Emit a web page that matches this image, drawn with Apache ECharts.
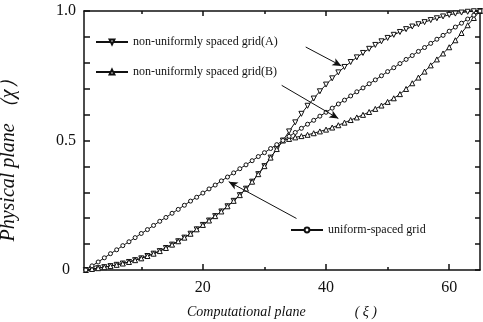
<!DOCTYPE html>
<html>
<head>
<meta charset="utf-8">
<script src="https://cdn.jsdelivr.net/npm/echarts@6/dist/echarts.min.js"></script>
<style>
  html, body { margin: 0; padding: 0; background: #fff; }
  #chart { width: 483px; height: 322px; }
</style>
</head>
<body>
<div id="chart"></div>
<script>
// grid index along the computational plane
const xi = [1,2,3,4,5,6,7,8,9,10,11,12,13,14,15,16,17,18,19,20,21,22,23,24,25,26,27,28,29,30,31,32,33,
  34,35,36,37,38,39,40,41,42,43,44,45,46,47,48,49,50,51,52,53,54,55,56,57,58,59,60,61,62,63,64,65]

// non-uniformly spaced grid (A)
const gridA = [0.000,0.004,0.007,0.011,0.015,0.020,0.025,0.031,0.038,0.045,0.054,0.063,0.073,0.085,0.098,0.111,
  0.125,0.140,0.157,0.174,0.191,0.208,0.226,0.246,0.267,0.289,0.314,0.341,0.370,0.401,0.434,0.467,0.500,
  0.535,0.570,0.603,0.634,0.662,0.690,0.716,0.740,0.763,0.784,0.803,0.821,0.838,0.854,0.869,0.883,0.896,
  0.908,0.919,0.930,0.940,0.949,0.957,0.965,0.972,0.979,0.985,0.990,0.994,0.997,0.999,1.000]

// non-uniformly spaced grid (B)
const gridB = [0.000,0.004,0.007,0.011,0.015,0.020,0.025,0.031,0.038,0.045,0.054,0.063,0.073,0.085,0.098,0.111,
  0.125,0.140,0.157,0.174,0.191,0.208,0.226,0.246,0.267,0.289,0.314,0.341,0.370,0.401,0.434,0.467,0.500,
  0.506,0.512,0.517,0.522,0.528,0.535,0.542,0.550,0.559,0.569,0.579,0.589,0.599,0.610,0.622,0.635,0.649,
  0.663,0.679,0.699,0.721,0.743,0.766,0.790,0.813,0.836,0.860,0.887,0.915,0.945,0.973,1.000]

// uniform-spaced grid
const gridU = [0.000,0.016,0.031,0.047,0.063,0.078,0.094,0.109,0.125,0.141,0.156,0.172,0.188,0.203,0.219,0.234,
  0.250,0.266,0.281,0.297,0.313,0.328,0.344,0.359,0.375,0.391,0.406,0.422,0.438,0.453,0.469,0.484,0.500,
  0.516,0.531,0.547,0.563,0.578,0.594,0.609,0.625,0.641,0.656,0.672,0.688,0.703,0.719,0.734,0.750,0.766,
  0.781,0.797,0.813,0.828,0.844,0.859,0.875,0.891,0.906,0.922,0.938,0.953,0.969,0.984,1.000]

const names = ['non-uniformly spaced grid(A)', 'non-uniformly spaced grid(B)', 'uniform-spaced grid']

const xMajorTicks = [20, 40, 60]
const xMinorTicks = [10, 30, 50]
const yLabels = [0, 0.5, 1]

// pointer arrows [from, to] in data units
const arrows = [
  [[36.7, 0.861], [42.5, 0.788]],
  [[32.8, 0.713], [42.0, 0.585]],
  [[35.2, 0.199], [24.2, 0.341]]
]

const ink = '#111'
const serif = '"Liberation Serif", "DejaVu Serif", serif'

const chart = echarts.init(document.getElementById('chart'), null, { renderer: 'canvas' })

const pairs = arr => arr.map((v, i) => [xi[i], v])

const lineSeries = (name, data, symbol, size) => ({
  name,
  type: 'line',
  data: pairs(data),
  symbol,
  symbolSize: size,
  showSymbol: true,
  lineStyle: { color: ink, width: 1 },
  itemStyle: { color: '#fff', borderColor: ink, borderWidth: 1 },
  emphasis: { disabled: true },
  animation: false
})

const xBase = {
  type: 'value', min: 0.7, max: 65,
  splitLine: { show: false }
}

const yBase = {
  type: 'value', min: 0, max: 1, interval: 0.1,
  splitLine: { show: false }
}

const legendBase = {
  orient: 'vertical',
  padding: 0,
  itemWidth: 32,
  itemHeight: 6,
  itemGap: 0,
  selectedMode: false,
  textStyle: { color: ink, fontFamily: serif, fontSize: 12 }
}

const option = {
  backgroundColor: '#fff',
  animation: false,
  grid: { left: 84, right: 3, top: 11, bottom: 52, outerBoundsMode: 'none', containLabel: false },
  legend: [
    { ...legendBase, data: [names[0]], left: 95, top: 36 },
    { ...legendBase, data: [names[1]], left: 95, top: 66 },
    { ...legendBase, data: [names[2]], left: 290, top: 224 }
  ],
  xAxis: [
    {
      ...xBase,
      position: 'bottom',
      name: 'Computational plane              ( ξ )',
      nameLocation: 'middle',
      nameGap: 35,
      nameTextStyle: { color: ink, fontFamily: serif, fontSize: 14, fontStyle: 'italic' },
      axisLine: { lineStyle: { color: ink, width: 1.5 } },
      axisTick: { inside: true, length: 6, customValues: xMajorTicks, lineStyle: { color: ink, width: 1.5 } },
      axisLabel: { customValues: xMajorTicks, margin: 10, color: ink, fontFamily: serif, fontSize: 16 }
    },
    {
      ...xBase,
      position: 'bottom',
      axisLine: { show: false },
      axisTick: { inside: true, length: 3, customValues: xMinorTicks, lineStyle: { color: ink, width: 1.5 } },
      axisLabel: { show: false }
    },
    {
      ...xBase,
      position: 'top',
      axisLine: { lineStyle: { color: ink, width: 1.5 } },
      axisTick: { inside: true, length: 5, customValues: xMajorTicks, lineStyle: { color: ink, width: 1.5 } },
      axisLabel: { show: false }
    },
    {
      ...xBase,
      position: 'top',
      axisLine: { show: false },
      axisTick: { inside: true, length: 3, customValues: xMinorTicks, lineStyle: { color: ink, width: 1.5 } },
      axisLabel: { show: false }
    }
  ],
  yAxis: [
    {
      ...yBase,
      position: 'left',
      name: 'Physical plane （χ）      ',
      nameLocation: 'middle',
      nameGap: 65,
      nameRotate: 90,
      nameTextStyle: { color: ink, fontFamily: serif, fontSize: 20, fontStyle: 'italic' },
      axisLine: { lineStyle: { color: ink, width: 1.5 } },
      axisTick: { inside: true, length: 6, lineStyle: { color: ink, width: 1.5 } },
      axisLabel: {
        customValues: yLabels,
        align: 'center',
        margin: 18,
        color: ink, fontFamily: serif, fontSize: 16,
        formatter: v => (v === 1 ? '1.0' : String(v))
      }
    },
    {
      ...yBase,
      position: 'right',
      axisLine: { lineStyle: { color: ink, width: 1.5 } },
      axisTick: { inside: true, length: 5, lineStyle: { color: ink, width: 1.5 } },
      axisLabel: { show: false }
    }
  ],
  series: [
    lineSeries(names[0], gridA, 'triangle', 5),
    lineSeries(names[1], gridB, 'triangle', 5),
    {
      ...lineSeries(names[2], gridU, 'circle', 4),
      markLine: {
        silent: true,
        symbol: ['none', 'arrow'],
        symbolSize: [6, 9],
        label: { show: false },
        lineStyle: { color: ink, width: 1, type: 'solid' },
        data: arrows.map(([a, b]) => [{ coord: a }, { coord: b }])
      }
    }
  ]
}

// A is drawn with downward triangles
option.series[0].symbolRotate = 180

chart.setOption(option)
</script>
</body>
</html>
